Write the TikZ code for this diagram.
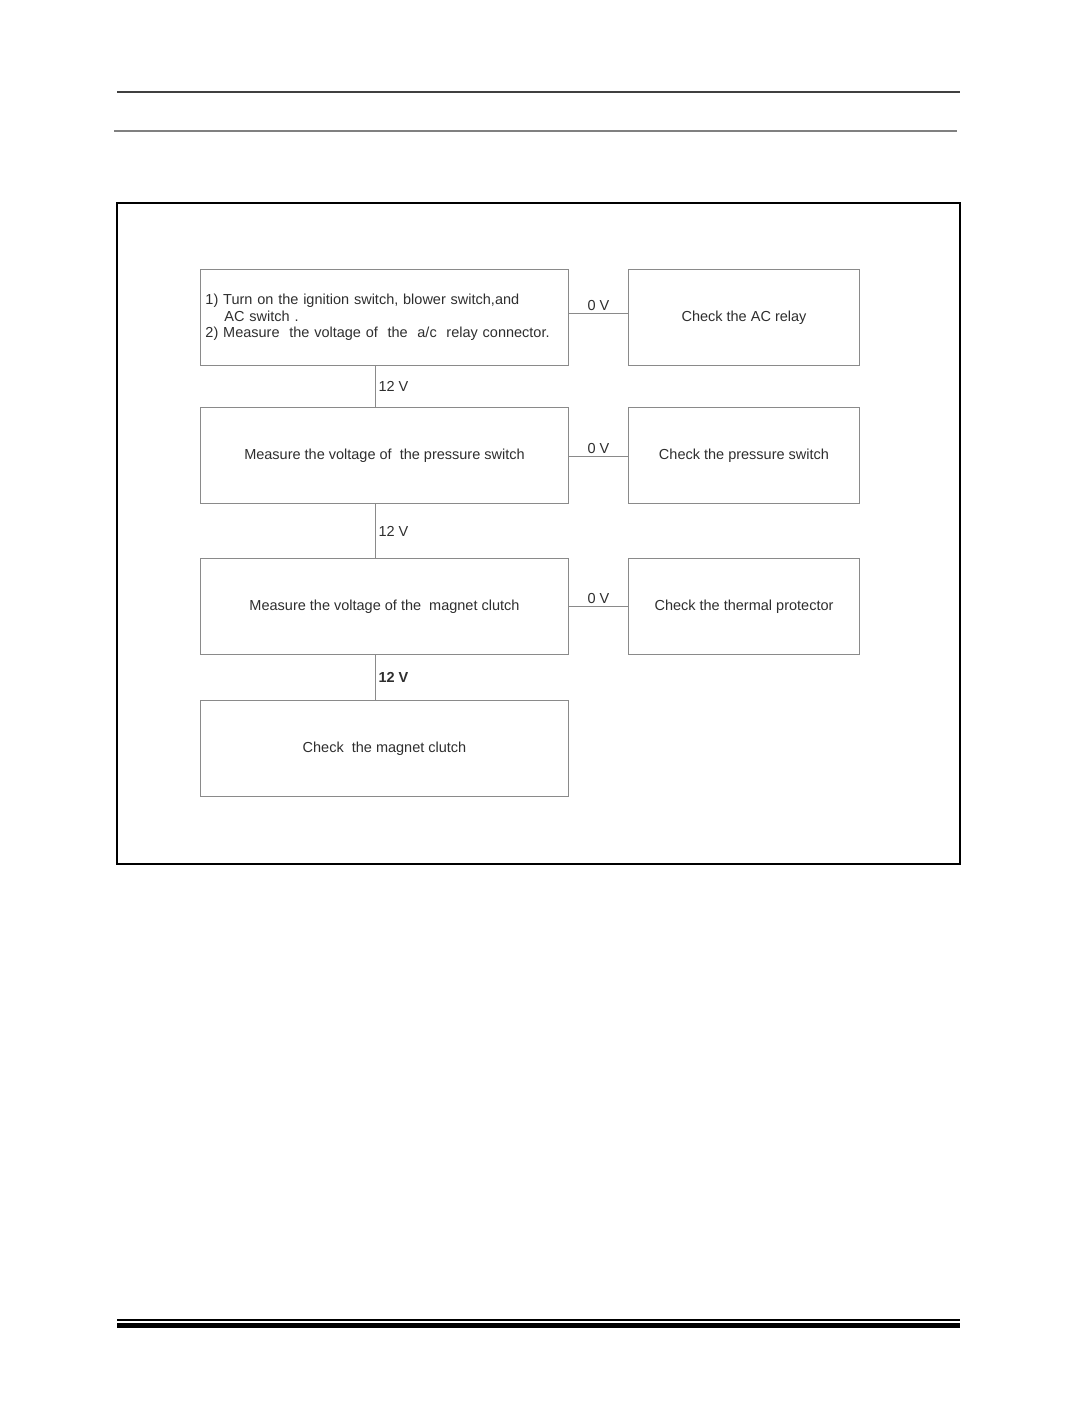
\documentclass[tikz,border=0pt]{standalone}
\usepackage{fontspec}
\setmainfont{Liberation Sans}
\usepackage{tikz}
\usetikzlibrary{matrix}
\definecolor{textgray}{HTML}{2E2E2E}
\definecolor{linegray}{HTML}{8A8A8A}

\begin{document}
\begin{tikzpicture}[x=1pt, y=-1pt,
  box/.style={draw=linegray, line width=1pt, outer sep=0pt, inner sep=0pt, minimum height=96pt,
    anchor=center, text=textgray, font=\fontsize{14.5}{16.5}\selectfont},
  volt/.style={text=textgray, font=\fontsize{14.5}{16.5}\selectfont, inner sep=2.5pt}]
  \useasboundingbox (0,0) rectangle (1075,1422);
  % page rules and frame
  \draw[black!75, line width=1.5pt] (117,92) -- (960,92);
  \draw[black!50, line width=2.5pt] (114,131) -- (957,131);
  \draw[line width=1.5pt] (117,1320) -- (960,1320);
  \draw[line width=5pt] (117,1325.5) -- (960,1325.5);
  \draw[line width=1.2pt] (117,203) rectangle (960,864);
  \matrix (m) [matrix of nodes, anchor=north west, inner sep=0pt, outer sep=0pt,
    row sep=41pt, column sep=59pt,
    column 1/.style={nodes={box, minimum width=368pt}},
    column 2/.style={nodes={box, minimum width=231pt}}] at (200,269)
  {
|[text width=358pt, align=left, inner xsep=5pt]| {1) Turn on the ignition switch, blower switch,and\\ \hspace*{19pt}AC switch .\\ 2) Measure~ the voltage of~ the~ a/c~ relay connector.} & Check the AC relay \\
Measure the voltage of~ the pressure switch & Check the pressure switch \\[13pt]
Measure the voltage of the~ magnet clutch & Check the thermal protector \\[4pt]
Check~ the magnet clutch \\
};
  \path[draw=linegray, line width=1pt]
  ([xshift=-9pt]m-1-1.south) edge node [volt, right] {12 V} ([xshift=-9pt]m-2-1.north)
  ([xshift=-9pt]m-2-1.south) edge node [volt, right] {12 V} ([xshift=-9pt]m-3-1.north)
  ([xshift=-9pt]m-3-1.south) edge node [volt, right, font=\fontsize{14.5}{16.5}\bfseries] {12 V} ([xshift=-9pt]m-4-1.north)
  ([yshift=4pt]m-1-1.east) edge node [volt, above] {0 V} ([yshift=4pt]m-1-2.west)
  ([yshift=-1pt]m-2-1.east) edge node [volt, above] {0 V} ([yshift=-1pt]m-2-2.west)
  (m-3-1.east) edge node [volt, above] {0 V} (m-3-2.west)
  ;
\end{tikzpicture}
\end{document}
